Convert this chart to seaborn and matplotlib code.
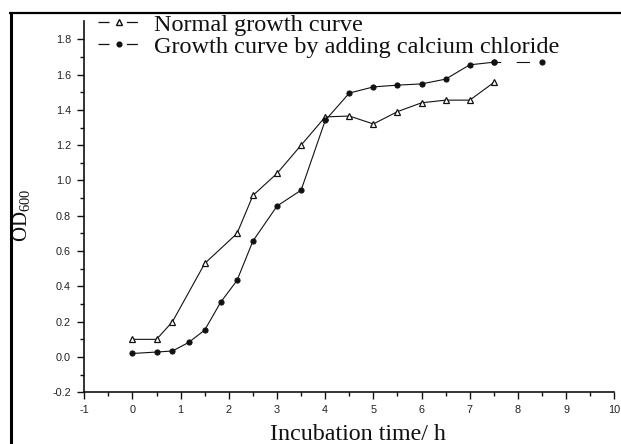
import numpy as np
import pandas as pd
import matplotlib
matplotlib.use("Agg")
import matplotlib.pyplot as plt
from matplotlib.lines import Line2D
import seaborn as sns

# ---- data ----
normal_time = [0, 0.5, 0.83, 1.5, 2.17, 2.5, 3.0, 3.5, 4.0, 4.5, 5.0, 5.5, 6.0, 6.5, 7.0, 7.5]
normal_od = [0.10, 0.10, 0.20, 0.53, 0.70, 0.915, 1.04, 1.20, 1.36, 1.365, 1.32, 1.39, 1.44, 1.455, 1.455, 1.555]

cacl_time = [0, 0.5, 0.83, 1.17, 1.5, 1.83, 2.17, 2.5, 3.0, 3.5, 4.0, 4.5, 5.0, 5.5, 6.0, 6.5, 7.0, 7.5, 8.5]
cacl_od = [0.02, 0.028, 0.034, 0.083, 0.153, 0.31, 0.434, 0.657, 0.855, 0.945, 1.34, 1.495, 1.53, 1.54, 1.547, 1.574, 1.655, 1.67, 1.67]

labels = ["Normal growth curve", "Growth curve by adding calcium chloride"]
x_ticks = list(range(-1, 11))
y_ticks = [-0.2, 0.0, 0.2, 0.4, 0.6, 0.8, 1.0, 1.2, 1.4, 1.6, 1.8]

sns.set_theme(style="ticks")
plt.rcParams["font.family"] = ["Liberation Sans", "DejaVu Sans"]
plt.rcParams["mathtext.fontset"] = "custom"
plt.rcParams["mathtext.rm"] = "Liberation Serif"

INK = "#111111"
fig = plt.figure(figsize=(6.21, 4.44), dpi=100)
fig.patch.set_facecolor("white")
ax = fig.add_axes([84.3 / 621, 1 - 392.3 / 444, (614.3 - 84.3) / 621, (392.3 - 20.7) / 444])
ax.set_facecolor("white")

df_n = pd.DataFrame({"time": normal_time, "od": normal_od})
df_c = pd.DataFrame({"time": cacl_time, "od": cacl_od})
n_solid = len(cacl_time) - 1  # last segment drawn dashed as in the reference

sns.lineplot(data=df_n, x="time", y="od", ax=ax, color=INK, lw=0.8,
             marker="^", markersize=4.4, markerfacecolor="white",
             markeredgecolor=INK, markeredgewidth=0.9, sort=False)
sns.lineplot(data=df_c.iloc[:n_solid], x="time", y="od", ax=ax, color=INK, lw=0.8,
             marker="o", markersize=3.7, markerfacecolor=INK,
             markeredgecolor=INK, sort=False)
sns.lineplot(data=df_c.iloc[n_solid - 1:], x="time", y="od", ax=ax, color=INK, lw=0.8,
             linestyle=(0, (6, 14, 12, 22)), marker="o", markersize=3.7,
             markerfacecolor=INK, markeredgecolor=INK, sort=False)

ax.set_xlim(-1, 10)
ax.set_ylim(-0.2, 1.905)
ax.set_xticks(x_ticks)
ax.set_xticklabels([str(v) for v in x_ticks])
ax.set_yticks(y_ticks)
ax.set_yticklabels([f"{v:.1f}" for v in y_ticks])
ax.set_xticks(np.arange(-0.5, 10, 1.0), minor=True)
ax.set_yticks(np.arange(-0.1, 1.9, 0.2), minor=True)

for s in ["top", "right"]:
    ax.spines[s].set_visible(False)
for s in ["left", "bottom"]:
    ax.spines[s].set_color(INK)
    ax.spines[s].set_linewidth(1.2)

ax.tick_params(axis="both", which="major", direction="out", length=5, width=1.0,
               colors=INK, labelsize=7.8, pad=4.5, labelcolor="#222222")
ax.tick_params(axis="both", which="minor", direction="out", length=3, width=1.0, colors=INK)

serif = ["Liberation Serif", "DejaVu Serif"]
ax.set_xlabel("Incubation time/ h", fontsize=17.3, family=serif, color=INK)
ax.xaxis.set_label_coords((357.5 - 84.3) / 530, -(424 - 392.3) / 371.6)
ax.set_ylabel(r"OD$_{\mathrm{600}}$", fontsize=15, family=serif, color=INK)
ax.yaxis.set_label_coords((22 - 84.3) / 530, (392.3 - 215) / 371.6)
ax.yaxis.label.set_verticalalignment("center")

handles = [
    Line2D([], [], color=INK, lw=0.9, linestyle=(0, (8.8, 13.9)), marker="^",
           markersize=3.8, markerfacecolor="white", markeredgecolor=INK),
    Line2D([], [], color=INK, lw=0.9, linestyle=(0, (8.8, 13.9)), marker="o",
           markersize=3.4, markerfacecolor=INK, markeredgecolor=INK),
]
leg = fig.legend(handles, labels, loc="upper left", bbox_to_anchor=(98.3 / 621, 1 - 13.5 / 444),
                 frameon=False, borderpad=0, borderaxespad=0, handlelength=1.67,
                 handletextpad=0.62, labelspacing=0.0, markerfirst=True,
                 prop={"family": serif, "size": 17.5})
for t in leg.get_texts():
    t.set_color(INK)

# partial frame around the picture (left and top edges)
fig.add_artist(Line2D([10.5 / 621, 10.5 / 621], [0, 1 - 12.7 / 444], transform=fig.transFigure,
                      color="black", lw=2.2, solid_capstyle="butt"))
fig.add_artist(Line2D([9.0 / 621, 1], [1 - 12.7 / 444, 1 - 12.7 / 444], transform=fig.transFigure,
                      color="black", lw=1.6, solid_capstyle="butt"))

fig.savefig("out.png", dpi=100, facecolor="white")
